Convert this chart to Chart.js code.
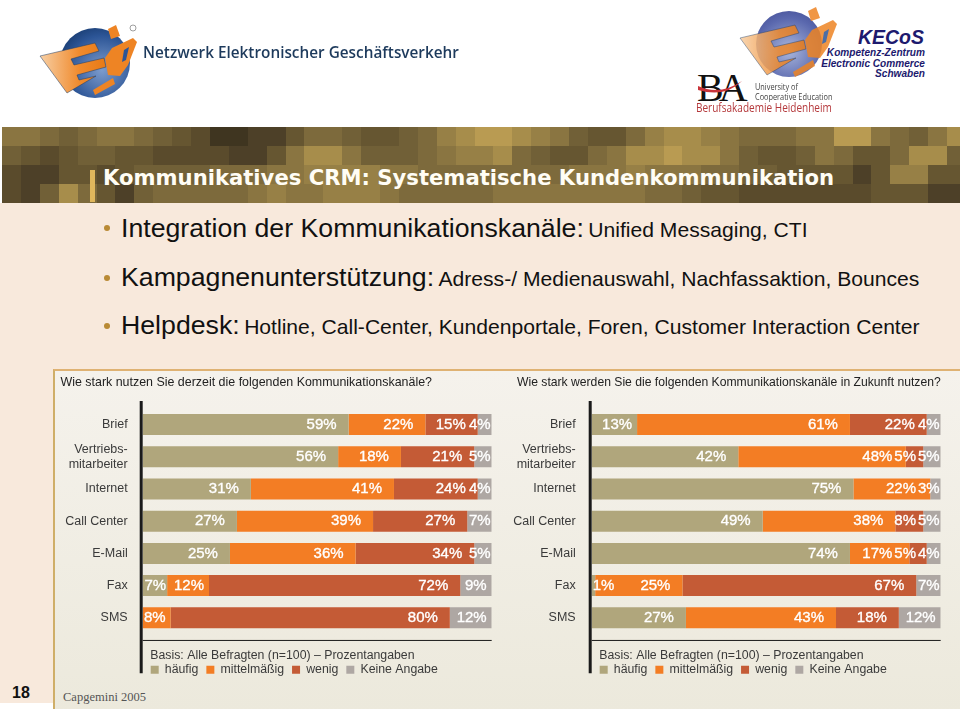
<!DOCTYPE html>
<html lang="de">
<head>
<meta charset="UTF-8">
<title>Kommunikatives CRM</title>
<script src="https://cdn.jsdelivr.net/npm/chart.js"></script>
<style>
    html,body{margin:0;padding:0;background:#fff;}
    #slide{position:relative;width:960px;height:709px;overflow:hidden;background:#fff;font-family:"Liberation Sans",Arial,sans-serif;}
    #slide div,#slide canvas,#slide svg{position:absolute;}
    .nowrap{white-space:nowrap;transform-origin:left top;}
    #peach{left:0;top:203px;width:960px;height:500px;background:#f8e9dc;}
    #band{left:2px;top:127px;width:958px;height:76px;overflow:hidden;background:#7d6a3c;filter:blur(0.7px);}
    .tile{width:19px;height:19px;}
    #barmark{left:90px;top:170px;width:5px;height:32px;background:#e0b75c;}
    #headline{left:103px;top:165px;font:bold 21.15px "DejaVu Sans";color:#fffdf5;}
    .big{font-size:26.7px;color:#111;}
    .small{font-size:21.1px;color:#111;}
    .dot{width:6px;height:6px;border-radius:3px;background:#b98a35;left:104px;}
    #panel{left:53px;top:369px;width:905px;height:340px;background:linear-gradient(#f5f2ec,#ece9dc);border-left:2px solid #cfae68;border-top:2px solid #dfb273;border-right:1px solid #e5c290;}
    #pagenr{left:12px;top:684px;font:bold 16px "Liberation Sans";color:#111;}
    #source{left:63px;top:690px;font:12.5px "Liberation Serif";color:#555;}
</style>
</head>
<body>
<div id="slide">
    <div id="peach"></div>
    <div id="band"></div>
    <div id="barmark"></div>
    <div id="headline" class="nowrap">Kommunikatives CRM: Systematische Kundenkommunikation</div>

    <svg width="960" height="125" style="left:0;top:0">
        <defs>
            <linearGradient id="eGrad" x1="0" x2="1"><stop offset="0" stop-color="#f7cfa4"/><stop offset="0.6" stop-color="#f08a2c"/><stop offset="1" stop-color="#e87a16"/></linearGradient>
            <radialGradient id="globe" cx="0.6" cy="0.6" r="0.7"><stop offset="0" stop-color="#7d9ccd"/><stop offset="0.7" stop-color="#2c5596"/><stop offset="1" stop-color="#173a6e"/></radialGradient>
            <radialGradient id="globe2" cx="0.5" cy="0.6" r="0.7"><stop offset="0" stop-color="#a9b6dc"/><stop offset="0.7" stop-color="#5a68ae"/><stop offset="1" stop-color="#454f96"/></radialGradient>
            <g id="eShape">
                <polygon points="40,56 95,43 99,51 71,59 74,65 104,58 106,67 77,75 79,80 96,76 67,93" fill="url(#eGrad)" stroke="#1c3a63" stroke-width="0.5"/>
                <polygon points="108,29 116,25 120,36 111,39" fill="#ee8424"/>
                <polygon points="93,90 113,78 115,84 95,95" fill="#ee8424"/>
                <polygon points="112,48 133,38 137,42 128,65 120,76 108,75 105,58" fill="#ee8424"/>
                <polygon points="124,50 129,47 126,60 122,62" fill="#2c5596"/>
            </g>
        </defs>
        <circle cx="95" cy="63" r="35" fill="url(#globe)"/>
        <use href="#eShape"/>
        <circle cx="133" cy="28" r="3" fill="none" stroke="#777" stroke-width="0.7"/>
        <circle cx="789" cy="44" r="33" fill="url(#globe2)"/>
        <use href="#eShape" x="700" y="-18" opacity="0.85"/>
    </svg>

    <div class="nowrap" style="left:143px;top:40px;font:600 16.4px 'Open Sans';color:#1d3a5c;transform:scaleX(0.935)">Netzwerk Elektronischer Geschäftsverkehr</div>
    <div class="nowrap" style="right:36px;top:26px;font:italic bold 19.5px 'Liberation Sans';color:#1d1a6e;transform-origin:right top">KECoS</div>
    <div class="nowrap" style="right:35px;top:48px;font:italic bold 10.1px/10.6px 'Liberation Sans';color:#1d1a6e;text-align:right;transform-origin:right top">Kompetenz-Zentrum<br>Electronic Commerce<br>Schwaben</div>
    <div class="nowrap" style="left:697px;top:68px;font:40px/40px 'Liberation Serif';color:#111;letter-spacing:-5px">BA</div>
    <svg width="60" height="20" style="left:695px;top:80px"><path d="M3 6 Q25 16 47 1 Q30 18 3 10 Z" fill="#c9343a"/></svg>
    <div class="nowrap" style="left:755px;top:82px;font:8.6px/10px 'Open Sans';color:#444;transform:scaleX(0.855)">University of<br>Cooperative Education</div>
    <div class="nowrap" style="left:696px;top:99px;font:11.8px 'Open Sans';color:#b5393c;transform:scaleX(0.85)">Berufsakademie Heidenheim</div>

    <div class="dot" style="top:225px"></div>
    <div class="nowrap" style="left:121px;top:213px"><span class="big">Integration der Kommunikationskanäle:</span> <span class="small">Unified Messaging, CTI</span></div>
    <div class="dot" style="top:275px"></div>
    <div class="nowrap" style="left:121px;top:262px"><span class="big">Kampagnenunterstützung:</span> <span class="small">Adress-/ Medienauswahl, Nachfassaktion, Bounces</span></div>
    <div class="dot" style="top:323px"></div>
    <div class="nowrap" style="left:121px;top:310px"><span class="big">Helpdesk:</span> <span class="small">Hotline, Call-Center, Kundenportale, Foren, Customer Interaction Center</span></div>

    <div id="panel"></div>
    <div id="pagenr">18</div>
    <div id="source" class="nowrap">Capgemini 2005</div>

    <canvas id="chartNow" width="450" height="330" style="left:54px;top:370px"></canvas>
    <canvas id="chartFuture" width="450" height="330" style="left:510px;top:370px"></canvas>
</div>

<script>
    var categories = [['Brief'], ['Vertriebs-', 'mitarbeiter'], ['Internet'], ['Call Center'], ['E-Mail'], ['Fax'], ['SMS']];
    var seriesNames = ['häufig', 'mittelmäßig', 'wenig', 'Keine Angabe'];
    var seriesColors = ['#b0a67c', '#f37d24', '#c45b36', '#aea7a3'];

    var nowHaeufig = [59, 56, 31, 27, 25, 7, 0];
    var nowMittel = [22, 18, 41, 39, 36, 12, 8];
    var nowWenig = [15, 21, 24, 27, 34, 72, 80];
    var nowKeine = [4, 5, 4, 7, 5, 9, 12];

    var futureHaeufig = [13, 42, 75, 49, 74, 1, 27];
    var futureMittel = [61, 48, 22, 38, 17, 25, 43];
    var futureWenig = [22, 5, 0, 8, 5, 67, 18];
    var futureKeine = [4, 5, 3, 5, 4, 7, 12];

    var basisText = 'Basis: Alle Befragten (n=100) – Prozentangaben';

    // header mosaic, one digit per tile
    var mosaicPalette = ['#3f3520', '#4d4028', '#5a4b2c', '#665631', '#716037', '#7d6a3c', '#8a7541', '#978046', '#a78d4b', '#b99b52'];
    var mosaicRows = [
        '66545665432001135' + '54334578998764335' + '78876555669965468',
        '43234433222211368' + '86444567785433568' + '89886433465335884',
        '21133234444555667' + '77766555555556667' + '66655443333137733',
        '21485314555556766' + '77765555566666666' + '55433222222233311'
    ];
    var band = document.getElementById('band');
    mosaicRows.forEach(function (row, r) {
        row.split('').forEach(function (c, i) {
            var t = document.createElement('div');
            t.className = 'tile';
            t.style.left = (i * 18.9) + 'px';
            t.style.top = (r * 19) + 'px';
            t.style.background = mosaicPalette[+c];
            band.appendChild(t);
        });
    });

    // white % labels, right aligned in each segment, pushed left so they never collide
    var percentLabels = {
        id: 'percentLabels',
        afterDatasetsDraw: function (chart) {
            var ctx = chart.ctx;
            ctx.save();
            ctx.font = '15px "Liberation Sans"';
            ctx.fillStyle = '#fff';
            ctx.strokeStyle = '#fff';
            ctx.lineWidth = 0.35;
            ctx.textBaseline = 'middle';
            ctx.textAlign = 'left';
            chart.data.labels.forEach(function (label, j) {
                var nextLeft = Infinity;
                for (var i = chart.data.datasets.length - 1; i >= 0; i--) {
                    var v = chart.data.datasets[i].data[j];
                    if (!v) continue;
                    var bar = chart.getDatasetMeta(i).data[j];
                    var text = v + '%';
                    var w = ctx.measureText(text).width;
                    var pad = v < 8 ? 1 : (v <= 13 ? 5 : 12);
                    var right = Math.min(bar.x - pad, nextLeft - 2);
                    var left = Math.max(right - w, chart.chartArea.left + 1);
                    ctx.fillText(text, left, bar.y);
                    ctx.strokeText(text, left, bar.y);
                    nextLeft = left;
                }
            });
            ctx.restore();
        }
    };

    // thick spine and thin rule under the bars, placed after layout
    var spine = {
        id: 'spine',
        afterLayout: function (chart, args, opts) {
            chart.boxes.filter(function (b) { return b.position === 'top'; })[0].left += opts.headingShift;
            chart.titleBlock.left += 7.6;
            chart.legend.top -= 7;
        },
        afterDraw: function (chart) {
            var a = chart.chartArea, ctx = chart.ctx;
            ctx.save();
            ctx.strokeStyle = '#1a1a1a';
            ctx.lineWidth = 3;
            ctx.beginPath();
            ctx.moveTo(a.left - 1.5, a.top - 7.4);
            ctx.lineTo(a.left - 1.5, a.bottom + 39.4);
            ctx.stroke();
            ctx.lineWidth = 1;
            ctx.beginPath();
            ctx.moveTo(a.left, a.bottom + 6.5);
            ctx.lineTo(a.right, a.bottom + 6.5);
            ctx.stroke();
            ctx.restore();
        }
    };

    function makeChart(id, heading, headingSize, headingShift, values, rightPad, axisWidth, tickPad) {
        return new Chart(document.getElementById(id), {
            type: 'bar',
            data: {
                labels: categories,
                datasets: values.map(function (data, i) {
                    return { label: seriesNames[i], data: data, backgroundColor: seriesColors[i], borderWidth: 0, categoryPercentage: 1, barPercentage: 0.652 };
                })
            },
            plugins: [percentLabels, spine],
            options: {
                indexAxis: 'y',
                responsive: false,
                animation: false,
                layout: { padding: { left: 0, right: rightPad, top: 5, bottom: 7 } },
                scales: {
                    x: { stacked: true, min: 0, max: 100, display: false },
                    y: {
                        stacked: true,
                        grid: { display: false, drawTicks: false },
                        border: { display: false },
                        afterFit: function (scale) { scale.width = axisWidth; },
                        ticks: { padding: tickPad, autoSkip: false, color: '#3a3a3a', font: { family: '"Liberation Sans"', size: 12.5 } }
                    }
                },
                plugins: {
                    tooltip: { enabled: false },
                    spine: { headingShift: headingShift },
                    subtitle: {
                        display: true, position: 'top', align: 'start', text: heading, color: '#222',
                        font: { family: '"Liberation Sans"', size: headingSize, weight: 'normal', lineHeight: 15.6 / headingSize },
                        padding: { top: 0, bottom: 17.8 }
                    },
                    title: {
                        display: true, position: 'bottom', align: 'start', fullSize: false, text: basisText, color: '#3a3a3a',
                        font: { family: '"Liberation Sans"', size: 12.3, weight: 'normal' },
                        padding: { top: 14, bottom: 0 }
                    },
                    legend: {
                        display: true, position: 'bottom', align: 'start', fullSize: false, weight: 2500,
                        labels: { boxWidth: 8, boxHeight: 8, padding: 8, color: '#3a3a3a', font: { family: '"Liberation Sans"', size: 12.3 } }
                    }
                }
            }
        });
    }

    makeChart('chartNow', 'Wie stark nutzen Sie derzeit die folgenden Kommunikationskanäle?', 12.43, 6.5,
        [nowHaeufig, nowMittel, nowWenig, nowKeine], 12.3, 88.7, 15);
    makeChart('chartFuture', 'Wie stark werden Sie die folgenden Kommunikationskanäle in Zukunft nutzen?', 13.4, 7,
        [futureHaeufig, futureMittel, futureWenig, futureKeine], 19.3, 81.7, 16);
</script>
</body>
</html>
